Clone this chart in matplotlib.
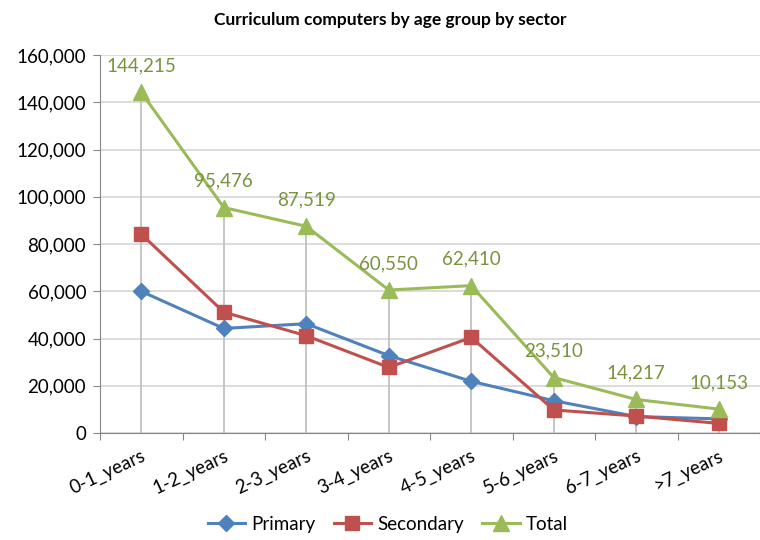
import numpy as np
import matplotlib.pyplot as plt
from matplotlib.ticker import FuncFormatter

plt.rcParams['font.family'] = ['Lato', 'DejaVu Sans']

ages = ['0-1_years', '1-2_years', '2-3_years', '3-4_years',
        '4-5_years', '5-6_years', '6-7_years', '>7_years']
primary = [60000, 44300, 46300, 32800, 21900, 13700, 7000, 6000]
secondary = [84200, 51200, 41200, 27800, 40500, 9800, 7200, 4100]
total = [144215, 95476, 87519, 60550, 62410, 23510, 14217, 10153]

fig = plt.figure(figsize=(7.6, 5.4), dpi=100)
ax = fig.add_axes([0.1316, 0.198, 0.8684, 0.7])

x = np.arange(len(ages))

# drop lines from the top series down to the axis
ax.vlines(x, 0, total, color='#c0c0c0', lw=1.3, zorder=1)

ax.plot(x, primary, color='#4F81BD', lw=2.2, marker='D', ms=8, label='Primary', zorder=3)
ax.plot(x, secondary, color='#C0504D', lw=2.2, marker='s', ms=10, label='Secondary', zorder=3)
ax.plot(x, total, color='#9BBB59', lw=2.2, marker='^', ms=11, label='Total', zorder=3)

for xi, v in zip(x, total):
    ax.annotate(f'{v:,}', (xi, v), xytext=(0, 13), textcoords='offset points',
                ha='center', va='bottom', color='#77933C', fontsize=13.5)

ax.set_xlim(-0.5, len(ages) - 0.5)
ax.set_ylim(0, 160000)
ax.set_yticks(np.arange(0, 160001, 20000))
ax.yaxis.set_major_formatter(FuncFormatter(lambda v, p: f'{int(v):,}'))
ax.yaxis.grid(True, color='#d9d9d9', lw=1.3)
ax.set_axisbelow(True)

ax.set_xticks(np.arange(-0.5, len(ages) - 0.4, 1))
ax.set_xticklabels([])
ax.set_xticks(x, minor=True)
ax.set_xticklabels(ages, minor=True, rotation=25, ha='right', rotation_mode='anchor', fontsize=13.5)
ax.tick_params(axis='x', which='minor', length=0, pad=10)
ax.tick_params(axis='x', which='major', length=5, color='#868686')
ax.tick_params(axis='y', length=5, color='#868686', labelsize=13.5, pad=5)

for s in ['top', 'right']:
    ax.spines[s].set_visible(False)
for s in ['left', 'bottom']:
    ax.spines[s].set_color('#868686')

ax.set_title('Curriculum computers by age group by sector', fontsize=12.5,
             fontweight='bold', pad=22, x=0.44)

fig.legend(loc='lower center', bbox_to_anchor=(0.51, -0.018), ncol=3, frameon=False,
           fontsize=13.5, handlelength=2.0, columnspacing=1.0, handletextpad=0.3)

fig.savefig('out.png', dpi=100)
